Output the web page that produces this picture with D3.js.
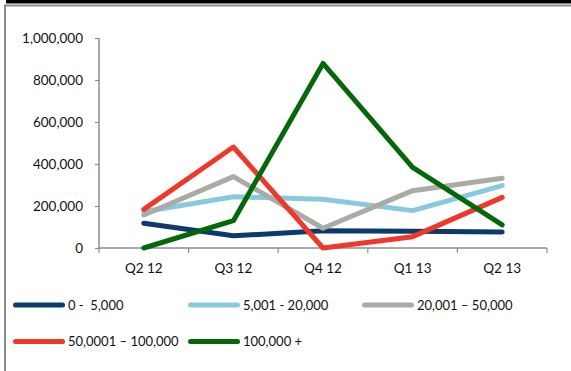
<!DOCTYPE html>
<html>
<head>
<meta charset="utf-8">
<script src="https://cdn.jsdelivr.net/npm/d3@7"></script>
<style>
  html, body { margin: 0; padding: 0; background: #fff; }
  svg { display: block; }
  text { font-family: Lato, "Open Sans", sans-serif; fill: #111; }
</style>
</head>
<body>
<svg id="chart" width="571" height="371"></svg>
<script>
// Quarterly counts by size band
const quarters = ["Q2 12", "Q3 12", "Q4 12", "Q1 13", "Q2 13"];
const band0to5k     = [118000, 58000, 82000, 80000, 76000];
const band5kTo20k   = [173000, 244000, 232000, 178000, 297000];
const band20kTo50k  = [157000, 340000, 94000, 273000, 332000];
const band50kTo100k = [184000, 481000, 0, 54000, 241000];
const band100kPlus  = [0, 130000, 879000, 384000, 110000];
const seriesNames  = ["0 -  5,000", "5,001 - 20,000", "20,001 \u2013 50,000", "50,0001 \u2013 100,000", "100,000 +"];
const seriesColors = ["#0b3a6b", "#88c9df", "#a9aba5", "#ef3829", "#04680a"];
const yTicks = [0, 200000, 400000, 600000, 800000, 1000000];

const series = [band0to5k, band5kTo20k, band20kTo50k, band50kTo100k, band100kPlus]
  .map((values, i) => ({ name: seriesNames[i], color: seriesColors[i], values }));

const svg = d3.select("#chart");

// Frame: black strip on top, gray rules along the top and left
svg.append("rect").attr("x", 6).attr("y", 0).attr("width", 565).attr("height", 3.5).attr("fill", "#000");
svg.append("line").attr("x1", 4).attr("x2", 571).attr("y1", 5.5).attr("y2", 5.5)
  .attr("stroke", "#8c8c8c").attr("stroke-width", 2);
svg.append("line").attr("x1", 5).attr("x2", 5).attr("y1", 5).attr("y2", 371)
  .attr("stroke", "#8c8c8c").attr("stroke-width", 2);

const plot = { left: 99, right: 547, top: 38, bottom: 248 };

const x = d3.scaleBand().domain(quarters).range([plot.left, plot.right]);
const y = d3.scaleLinear().domain([0, 1000000]).range([plot.bottom, plot.top]);

// Y axis
const yAxis = svg.append("g")
  .attr("transform", `translate(${plot.left},0)`)
  .call(d3.axisLeft(y).tickValues(yTicks).tickSize(4).tickPadding(12)
    .tickFormat(d3.format(",")));
yAxis.select(".domain").attr("stroke", "#8c8c8c").attr("stroke-width", 1.5)
  .attr("d", `M0,${plot.top}V${plot.bottom}`);
yAxis.selectAll(".tick line").attr("stroke", "#8c8c8c").attr("stroke-width", 1.2);
yAxis.selectAll("text").style("font-size", "13.5px").attr("fill", "#111");

// X axis with ticks on category boundaries
const xAxisG = svg.append("g").attr("transform", `translate(0,${plot.bottom})`);
xAxisG.append("line").attr("x1", plot.left).attr("x2", plot.right)
  .attr("stroke", "#8c8c8c").attr("stroke-width", 1.5);
const boundaries = quarters.map(q => x(q)).concat([x(quarters[quarters.length - 1]) + x.bandwidth()]);
xAxisG.selectAll("line.bound").data(boundaries).enter().append("line")
  .attr("class", "bound").attr("x1", d => d).attr("x2", d => d).attr("y1", 0).attr("y2", 5)
  .attr("stroke", "#8c8c8c").attr("stroke-width", 1.2);
xAxisG.selectAll("text").data(quarters).enter().append("text")
  .attr("x", d => x(d) + x.bandwidth() / 2).attr("y", 25)
  .attr("text-anchor", "middle").style("font-size", "13.5px").text(d => d);

// Lines
const line = d3.line()
  .x((d, i) => x(quarters[i]) + x.bandwidth() / 2)
  .y(d => y(d));

svg.append("g").selectAll("path").data(series).enter().append("path")
  .attr("d", d => line(d.values))
  .attr("fill", "none")
  .attr("stroke", d => d.color)
  .attr("stroke-width", 5)
  .attr("stroke-linejoin", "round")
  .attr("stroke-linecap", "round");

// Legend
const legendPos = [
  { x: 14, y: 305 }, { x: 189, y: 305 }, { x: 363, y: 305 },
  { x: 14, y: 341.5 }, { x: 189, y: 341.5 }
];
const legend = svg.append("g").selectAll("g").data(series).enter().append("g")
  .attr("transform", (d, i) => `translate(${legendPos[i].x},${legendPos[i].y})`);
legend.append("line").attr("x1", 1.5).attr("x2", 48.5).attr("y1", 0).attr("y2", 0)
  .attr("stroke", d => d.color).attr("stroke-width", 5).attr("stroke-linecap", "round");
legend.append("text").attr("x", 54).attr("y", 0).attr("dy", "0.35em")
  .style("font-size", "13px").style("white-space", "pre").attr("xml:space", "preserve")
  .text(d => d.name);
</script>
</body>
</html>
